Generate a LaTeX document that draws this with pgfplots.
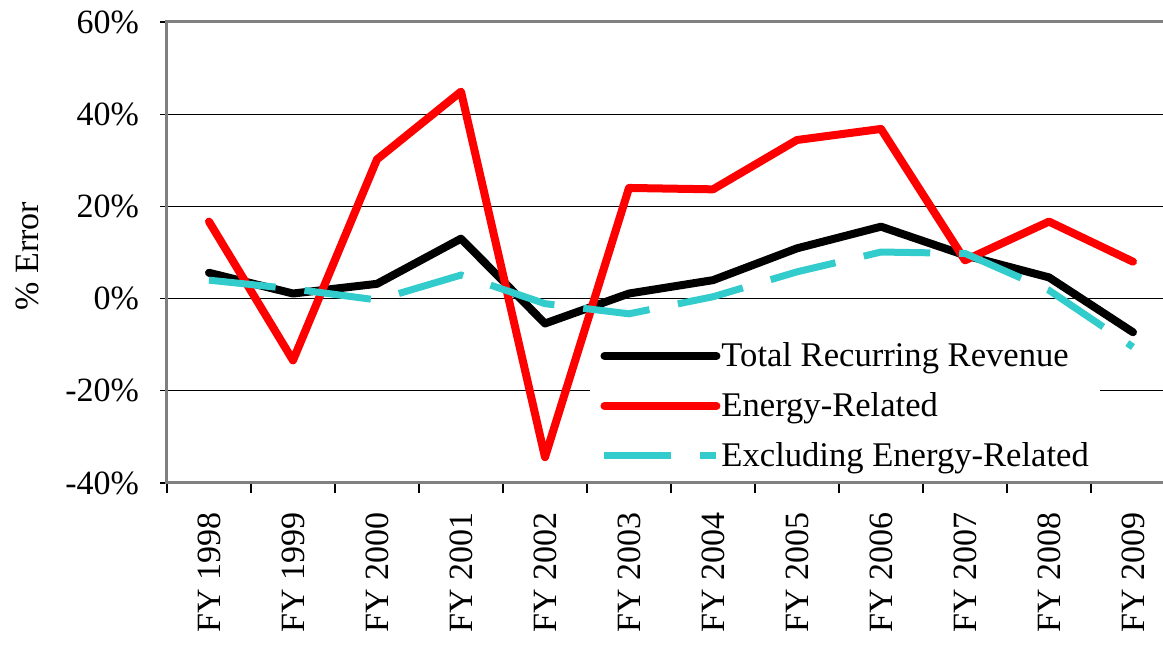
\documentclass[border=0pt]{standalone}
\usepackage{fontspec}
\setmainfont{Liberation Serif}
\usepackage{pgfplots}
\pgfplotsset{compat=1.18}
\definecolor{exccyan}{RGB}{51,204,204}
\definecolor{framegray}{RGB}{128,128,128}
\begin{document}
\begin{tikzpicture}
\begin{axis}[
  at={(0,0)}, anchor=south west,
  scale only axis, width=504pt, height=230.5pt,
  xmin=-0.5, xmax=11.5, ymin=-40, ymax=60,
  axis line style={framegray, line width=1.5pt},
  xtick={0,...,11},
  xticklabels={FY 1998,FY 1999,FY 2000,FY 2001,FY 2002,FY 2003,FY 2004,FY 2005,FY 2006,FY 2007,FY 2008,FY 2009},
  minor xtick={-0.5,0.5,...,11.5},
  major x tick style={draw=none},
  minor x tick style={black, line width=0.6pt},
  minor tick length=5pt,
  xtick pos=left, ytick pos=left,
  tick align=outside,
  ytick={-40,-20,0,20,40,60},
  yticklabels={-40\%,-20\%,0\%,20\%,40\%,60\%},
  major y tick style={black, line width=0.6pt},
  major tick length=3.5pt,
  ymajorgrids,
  major grid style={black, line width=0.5pt},
  tick label style={font=\fontsize{17}{20}\selectfont},
  xticklabel style={yshift=-11pt, rotate=90, anchor=east, inner sep=0pt},
  yticklabel style={xshift=-7pt},
  ylabel={\% Error},
  ylabel style={font=\fontsize{17}{20}\selectfont, at={(rel axis cs:-0.1389,0.4924)}, anchor=center},
  legend style={at={(rel axis cs:0.4197,0.3319)}, anchor=north west, draw=none, fill=white,
    font=\fontsize{17.3}{20}\selectfont, inner xsep=5pt, inner ysep=3pt,
    nodes={inner xsep=0.5pt, inner ysep=3pt, anchor=west}, row sep=5.5pt},
  legend cell align=left,
  legend image code/.code={\draw[#1] (0pt,0pt) -- (56pt,0pt);},
]
\addplot[black, line width=4pt, line cap=round, line join=round] coordinates {
(0,5.6) (1,1.1) (2,3.2) (3,13.0) (4,-5.4) (5,1.1) (6,4.0) (7,10.9) (8,15.6) (9,9.4) (10,4.6) (11,-7.3)};
\addlegendentry{Total Recurring Revenue}
\addplot[red, line width=4pt, line cap=round, line join=round] coordinates {
(0,16.7) (1,-13.4) (2,30.2) (3,44.9) (4,-34.4) (5,24.0) (6,23.7) (7,34.4) (8,36.8) (9,8.3) (10,16.7) (11,8.0)};
\addlegendentry{Energy-Related}
\addplot[exccyan, line width=3.5pt, line cap=butt, line join=miter, dash pattern=on 33.5pt off 14.5pt] coordinates {
(0,4.0) (1,2.1) (2,-0.3) (3,5.1) (4,-1.1) (5,-3.3) (6,0.4) (7,5.8) (8,10.1) (9,9.8) (10,1.8) (11,-10.5)};
\addlegendentry{Excluding Energy-Related}
\end{axis}
\pgfresetboundingbox
\path (-83.5pt,-84pt) rectangle (498pt,241.5pt);
\end{tikzpicture}
\end{document}
